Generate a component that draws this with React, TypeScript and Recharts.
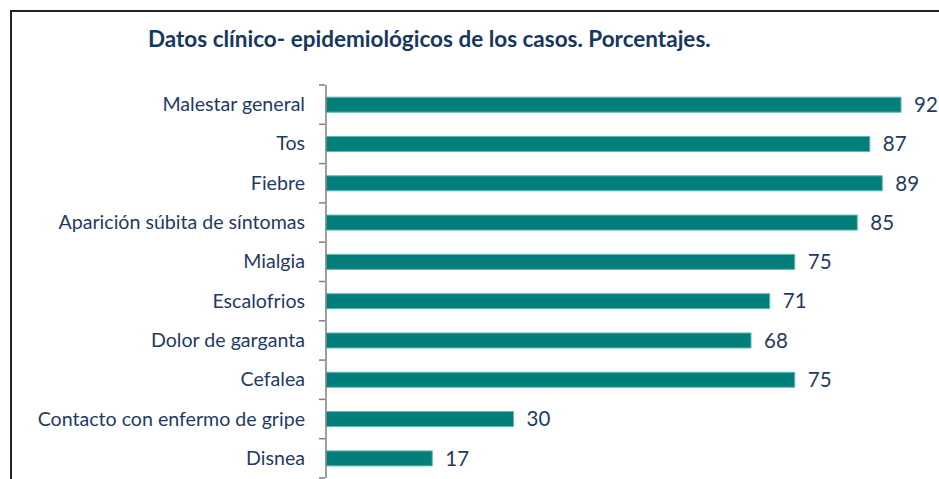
import React from "react";
import { BarChart, Bar, XAxis, YAxis, LabelList } from "recharts";

const categories = [
  "Malestar general",
  "Tos",
  "Fiebre",
  "Aparición súbita de síntomas",
  "Mialgia",
  "Escalofrios",
  "Dolor de garganta",
  "Cefalea",
  "Contacto con enfermo de gripe",
  "Disnea",
];
const percentages = [92, 87, 89, 85, 75, 71, 68, 75, 30, 17];

const data = categories.map((name, i) => ({ name, value: percentages[i] }));

const textColor = "#1f3b63";
const fontFamily = "Lato, 'Open Sans', sans-serif";

const CategoryTick = (props: any) => {
  const { x, y, payload, index, visibleTicksCount } = props;
  const off = payload.offset || 0;
  const isLast = index === visibleTicksCount - 1;
  return (
    <g>
      <line x1={x + 1} x2={x + 7} y1={y - off} y2={y - off} stroke="#7f7f7f" strokeWidth={1.5} />
      {isLast && (
        <line x1={x + 1} x2={x + 7} y1={y + off} y2={y + off} stroke="#7f7f7f" strokeWidth={1.5} />
      )}
      <text
        x={x - 13}
        y={y}
        dy={6.5}
        textAnchor="end"
        fill={textColor}
        fontSize={19.6}
        fontFamily={fontFamily}
      >
        {payload.value}
      </text>
    </g>
  );
};

export default function App() {
  return (
    <div
      style={{
        position: "fixed",
        left: 0,
        top: 0,
        width: 939,
        height: 479,
        overflow: "hidden",
        background: "#fff",
      }}
    >
      <div
        style={{
          position: "absolute",
          left: 10,
          top: 10,
          width: 1000,
          height: 600,
          borderLeft: "2px solid #222",
          borderTop: "2px solid #222",
        }}
      />
      <div
        style={{
          position: "absolute",
          left: 148,
          top: 25,
          fontFamily,
          fontWeight: 700,
          fontSize: 22.5,
          lineHeight: "28px",
          color: "#17375e",
          whiteSpace: "nowrap",
        }}
      >
        Datos clínico- epidemiológicos de los casos. Porcentajes.
      </div>
      <div style={{ position: "absolute", left: 0, top: 0 }}>
        <BarChart
          width={970}
          height={500}
          data={data}
          layout="vertical"
          barCategoryGap="31%"
          margin={{ top: 85, right: 19, bottom: 22, left: 0 }}
        >
          <XAxis type="number" domain={[0, 100]} hide />
          <YAxis
            type="category"
            dataKey="name"
            width={326}
            axisLine={{ stroke: "#7f7f7f", strokeWidth: 1.5 }}
            tickLine={false}
            tick={<CategoryTick />}
            interval={0}
          />
          <Bar dataKey="value" fill="#027f7b" stroke="#5fb8b3" strokeWidth={1} isAnimationActive={false}>
            <LabelList
              dataKey="value"
              position="right"
              offset={13}
              fill={textColor}
              fontSize={20.5}
              fontFamily={fontFamily}
            />
          </Bar>
        </BarChart>
      </div>
    </div>
  );
}
